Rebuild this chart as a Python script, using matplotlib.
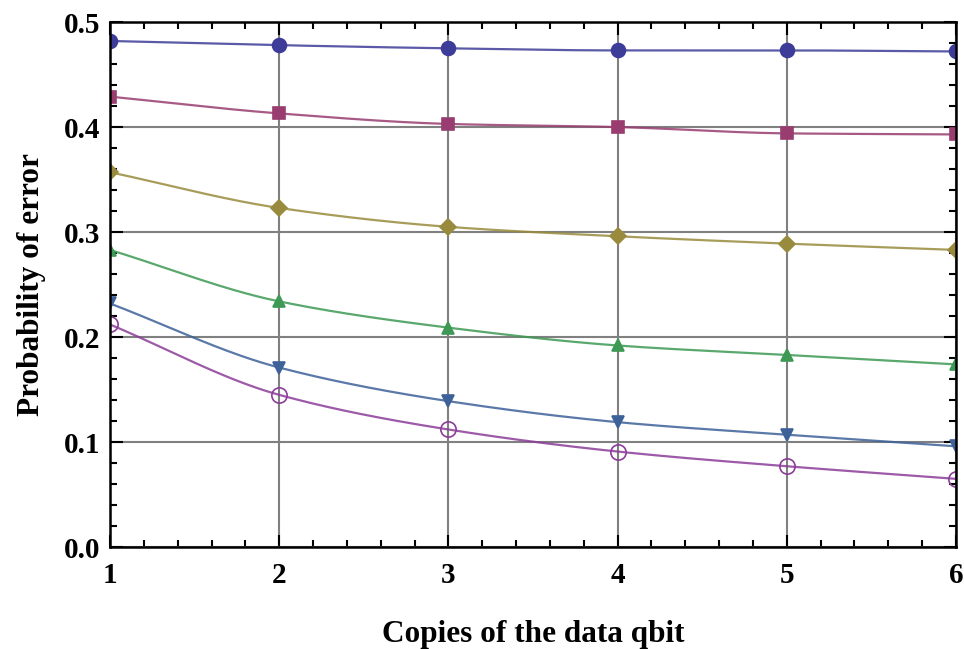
import numpy as np
import matplotlib
matplotlib.use("Agg")
import matplotlib.pyplot as plt
from matplotlib.ticker import MultipleLocator, FormatStrFormatter

copies = [1, 2, 3, 4, 5, 6]
series_a = [0.482, 0.478, 0.475, 0.473, 0.473, 0.472]
series_b = [0.429, 0.413, 0.403, 0.400, 0.394, 0.393]
series_c = [0.357, 0.323, 0.305, 0.296, 0.289, 0.283]
series_d = [0.283, 0.234, 0.209, 0.192, 0.183, 0.174]
series_e = [0.232, 0.171, 0.139, 0.119, 0.107, 0.096]
series_f = [0.212, 0.145, 0.112, 0.091, 0.077, 0.065]

styles = [
    (series_a, "#3D3D99", "o", True, 10),
    (series_b, "#993D71", "s", True, 9),
    (series_c, "#998B3D", "D", True, 8),
    (series_d, "#3D9954", "^", True, 9),
    (series_e, "#3D6199", "v", True, 9),
    (series_f, "#8C3D99", "o", False, 11),
]


def pchip(x, y, xs):
    """Monotone cubic Hermite curve through the given points."""
    x = np.asarray(x, float)
    y = np.asarray(y, float)
    h = np.diff(x)
    d = np.diff(y) / h
    m = np.zeros_like(y)
    for k in range(1, len(y) - 1):
        if d[k - 1] * d[k] > 0:
            w1 = 2 * h[k] + h[k - 1]
            w2 = h[k] + 2 * h[k - 1]
            m[k] = (w1 + w2) / (w1 / d[k - 1] + w2 / d[k])
    m[0] = d[0]
    m[-1] = d[-1]
    idx = np.clip(np.searchsorted(x, xs) - 1, 0, len(x) - 2)
    t = (xs - x[idx]) / h[idx]
    h00 = 2 * t**3 - 3 * t**2 + 1
    h10 = t**3 - 2 * t**2 + t
    h01 = -2 * t**3 + 3 * t**2
    h11 = t**3 - t**2
    return (h00 * y[idx] + h10 * h[idx] * m[idx]
            + h01 * y[idx + 1] + h11 * h[idx] * m[idx + 1])


plt.rcParams["font.family"] = ["Liberation Serif", "DejaVu Serif"]

fig = plt.figure(figsize=(9.64, 6.49), dpi=100)
ax = fig.add_axes([0.1141, 0.157, 0.8776, 0.809])

xs = np.linspace(copies[0], copies[-1], 400)
for vals, col, mk, filled, ms in styles:
    ax.plot(xs, pchip(copies, vals, xs), color=col, lw=1.6, alpha=0.85,
            solid_capstyle="round", zorder=3)
    ax.plot(copies, vals, linestyle="none", marker=mk, markersize=ms,
            markerfacecolor=col if filled else "none", markeredgecolor=col,
            markeredgewidth=1.2, zorder=4)

ax.set_xlim(1, 6)
ax.set_ylim(0, 0.5)
ax.xaxis.set_major_locator(MultipleLocator(1))
ax.xaxis.set_minor_locator(MultipleLocator(0.2))
ax.yaxis.set_major_locator(MultipleLocator(0.1))
ax.yaxis.set_minor_locator(MultipleLocator(0.02))
ax.yaxis.set_major_formatter(FormatStrFormatter("%.1f"))

ax.grid(True, which="major", color="#808080", lw=1.5, zorder=1)
ax.set_axisbelow(True)

ax.tick_params(which="both", direction="in", top=True, right=True,
               color="black", width=1.5)
ax.tick_params(which="major", length=9, labelsize=21)
ax.tick_params(axis="y", which="major", pad=7)
ax.tick_params(axis="x", which="major", pad=11)
ax.tick_params(which="minor", length=5)
for lab in ax.get_xticklabels() + ax.get_yticklabels():
    lab.set_fontweight("bold")
for sp in ax.spines.values():
    sp.set_linewidth(1.8)
    sp.set_zorder(5)

ax.set_xlabel("Copies of the data qbit", fontsize=22.5, fontweight="bold",
              labelpad=22)
ax.set_ylabel("Probability of error", fontsize=22.5, fontweight="bold",
              labelpad=13)

fig.savefig("out.png", dpi=100)
